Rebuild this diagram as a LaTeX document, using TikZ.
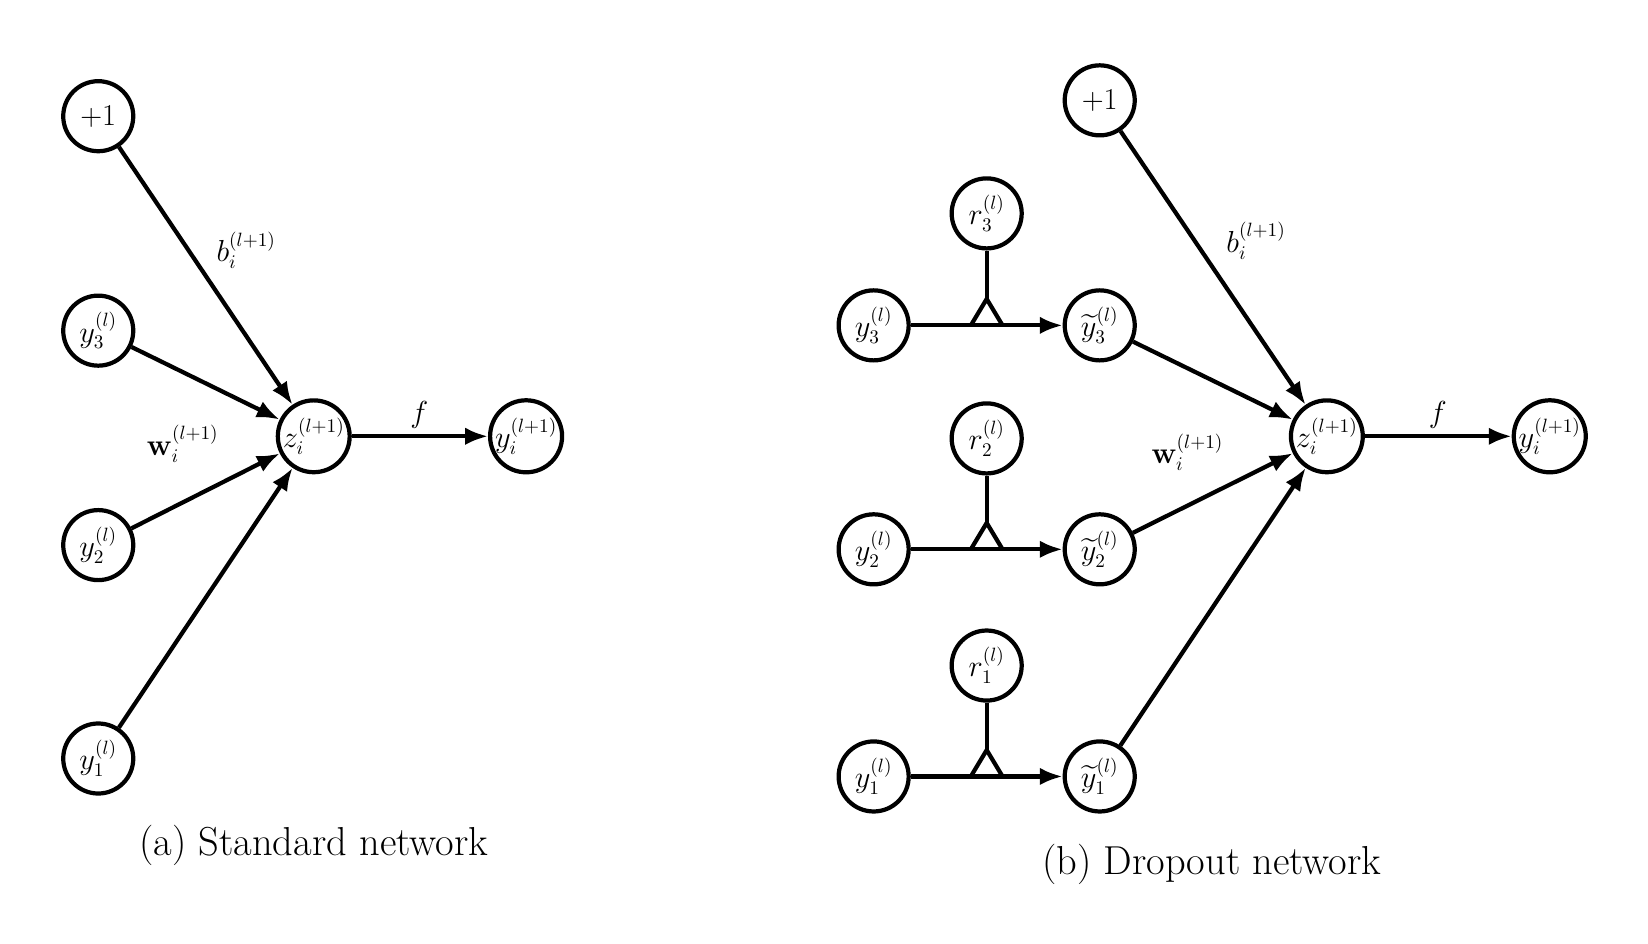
\documentclass[tikz,border=0pt]{standalone}
\usepackage{amsmath}
\usetikzlibrary{arrows.meta}
\tikzset{
  neuron/.style={circle,draw,line width=2.4pt,minimum size=1.4cm,inner sep=0pt,font=\fontsize{16}{19}\selectfont},
  conn/.style={line width=2.4pt,-{Latex[length=13pt,width=10pt]}},
  lbl/.style={font=\fontsize{16}{19}\selectfont}
}
\begin{document}
\begin{tikzpicture}[x=0.02112cm,y=-0.02112cm]
\useasboundingbox (0,0) rectangle (1560,893);
% standard network
\node[neuron] (ab) at (93,110) {$+1$};
\node[neuron] (ay3) at (93,313) {$y_3^{(l)}$};
\node[neuron] (ay2) at (93,516) {$y_2^{(l)}$};
\node[neuron] (ay1) at (93,718) {$y_1^{(l)}$};
\node[neuron] (az) at (297,413) {$z_i^{(l+1)}$};
\node[neuron] (aout) at (498,413) {$y_i^{(l+1)}$};
\foreach \n in {ab,ay3,ay2,ay1}
  \draw[conn] (\n) -- (az);
\draw[conn] (az) -- (aout);
\node[lbl] at (233,237) {$b_i^{(l+1)}$};
\node[lbl] at (173,420) {$\mathbf{w}_i^{(l+1)}$};
\node[lbl] at (397,393) {$f$};
\node[font=\fontsize{23}{27}\selectfont] at (297,800) {(a) Standard network};
% dropout network
\node[neuron] (bb) at (1041,95) {$+1$};
\node[neuron] (bz) at (1256,413) {$z_i^{(l+1)}$};
\node[neuron] (bout) at (1467,413) {$y_i^{(l+1)}$};
\foreach \k/\yy/\ry in {3/308/202,2/520/415,1/735/630}{
  \node[neuron] (by\k) at (827,\yy) {$y_\k^{(l)}$};
  \node[neuron] (bt\k) at (1041,\yy) {$\widetilde{y}_\k^{(l)}$};
  \node[neuron] (br\k) at (934,\ry) {$r_\k^{(l)}$};
  \coordinate (tip\k) at (934,\yy-25);
  \draw[conn] (by\k) -- (bt\k);
  \draw[line width=2.4pt] (br\k) -- (tip\k);
  \draw[line width=2.4pt,line join=miter] (919,\yy) -- (tip\k) -- (949,\yy);
  \draw[conn] (bt\k) -- (bz);
}
\draw[conn] (bb) -- (bz);
\draw[conn] (bz) -- (bout);
\node[lbl] at (1189,228) {$b_i^{(l+1)}$};
\node[lbl] at (1124,428) {$\mathbf{w}_i^{(l+1)}$};
\node[lbl] at (1361,393) {$f$};
\node[font=\fontsize{23}{27}\selectfont] at (1147,818) {(b) Dropout network};
\end{tikzpicture}
\end{document}
